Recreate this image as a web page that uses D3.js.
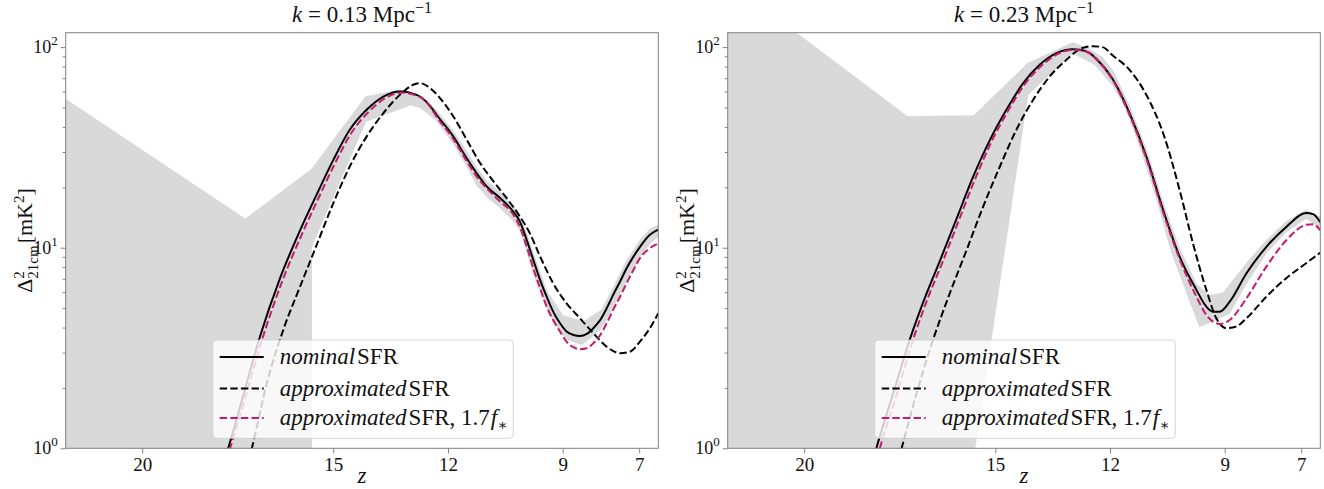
<!DOCTYPE html>
<html><head><meta charset="utf-8">
<script src="https://cdn.jsdelivr.net/npm/d3@7"></script>
<style>body{margin:0;background:#fff}svg{display:block}
svg text{font-family:"Liberation Serif","DejaVu Serif",serif;}
</style>
</head><body>
<svg id="chart" width="1324" height="489"></svg>
<script>
// ---------- data ----------
const zTicks = [20, 15, 12, 9, 7];
const zTickLabels = ["20", "15", "12", "9", "7"];
const yMajor = [1, 10, 100];
const yMajorExp = ["0", "1", "2"];
const kValues = ["0.13", "0.23"];
const legendNames = ["nominal", "approximated", "approximated"];

// k = 0.13 Mpc^-1  ([z, Delta^2])
const nominal013 = [[18.2,0.55],[17.75,1],[17.35,1.85],[16.92,3.6],[16.4,7.0],[15.87,12.2],[15.43,18.5],[15.0,27.4],[14.57,38.7],[14.13,48.7],[13.69,56.7],[13.26,60.1],[12.82,57.8],[12.47,51],[12.3,46],[11.86,35.8],[11.51,27.9],[11.25,23.5],[10.99,20.2],[10.64,17.7],[10.29,15.1],[10.12,13.5],[9.94,10.9],[9.77,8.7],[9.59,6.9],[9.42,5.7],[9.25,4.8],[9.07,4.2],[8.9,3.82],[8.72,3.67],[8.55,3.63],[8.37,3.72],[8.2,3.97],[8.02,4.36],[7.85,4.99],[7.68,5.82],[7.5,6.78],[7.33,7.9],[7.15,9.03],[6.98,10.1],[6.72,11.6],[6.5,12.3]];
const approx013 = [[17.5,0.55],[17.13,1],[16.74,2.11],[16.31,3.89],[15.87,6.4],[15.52,9.4],[15.0,16.7],[14.57,25.4],[14.13,35.8],[13.69,46.9],[13.26,57.8],[12.91,64.9],[12.73,66.1],[12.47,62.5],[12.21,55.7],[11.86,45.1],[11.51,34.5],[11.16,26.4],[10.81,21.4],[10.47,17.7],[10.12,14.3],[9.86,11.8],[9.59,9.03],[9.25,6.65],[8.9,5.28],[8.55,4.45],[8.2,3.75],[7.85,3.21],[7.5,2.98],[7.24,3.03],[6.98,3.4],[6.72,3.97],[6.5,4.71]];
const approxFs013 = [[18.15,0.55],[17.7,1],[17.3,1.8],[16.87,3.45],[16.35,6.7],[15.82,11.7],[15.38,17.8],[14.95,26.5],[14.52,37.5],[14.08,47.5],[13.65,55.5],[13.22,59.3],[12.78,57],[12.47,50.5],[12.3,45],[11.86,34.8],[11.51,27],[11.25,22.6],[10.99,19.8],[10.64,17.0],[10.29,14.6],[10.12,12.7],[9.94,10.1],[9.77,7.9],[9.59,6.28],[9.42,5.08],[9.25,4.36],[9.07,3.82],[8.9,3.4],[8.72,3.19],[8.55,3.12],[8.37,3.15],[8.2,3.34],[8.02,3.67],[7.85,4.2],[7.68,4.9],[7.5,5.7],[7.33,6.65],[7.15,7.75],[6.98,8.87],[6.72,9.95],[6.5,10.5]];
const bandUpper013 = [[22,55],[17.3,13.9],[15.57,24.6],[14.15,56.7],[13.24,61.2],[12.73,57],[12.3,48.5],[11.86,38],[11.5,30],[11.25,25],[10.99,21.5],[10.64,19],[10.29,16],[10.12,14.3],[9.94,11.8],[9.77,9.4],[9.42,6.1],[9.0,4.6],[8.46,4.28],[7.98,4.9],[7.68,6.3],[7.33,8.6],[6.98,10.9],[6.72,12.4],[6.5,13.0]];
const bandLower013 = [[6.5,11.4],[6.72,10.5],[6.98,9.0],[7.33,6.9],[7.68,5.0],[8.02,3.9],[8.5,3.28],[8.9,3.5],[9.25,4.3],[9.59,6.0],[9.77,7.4],[9.94,9.6],[10.12,12.2],[10.29,13.6],[10.64,15.8],[10.99,18.0],[11.25,20.5],[11.51,25.5],[11.86,33],[12.3,43],[12.73,50],[12.98,51.5],[14.15,42.6],[15.57,10.1],[15.57,0.5],[22,0.5]];

// k = 0.23 Mpc^-1
const nominal023 = [[18.45,0.55],[18.11,1],[17.67,1.88],[17.24,3.47],[16.8,5.9],[16.45,8.6],[16.01,14.0],[15.58,22.6],[15.14,34.5],[14.71,48.7],[14.27,66.1],[13.84,81.6],[13.4,93.3],[12.97,97.5],[12.79,97],[12.53,93.3],[12.36,87.5],[11.92,68.7],[11.49,46.9],[11.05,28.5],[10.61,15.4],[10.18,9.03],[9.74,6.16],[9.48,5.08],[9.31,4.8],[9.13,4.8],[8.87,5.38],[8.43,7.46],[7.91,10.1],[7.39,12.7],[6.87,14.9],[6.69,14.7],[6.5,13.4]];
const approx023 = [[17.8,0.55],[17.45,1],[17.06,1.88],[16.63,3.47],[16.19,5.93],[15.75,9.75],[15.32,16.0],[14.88,25.4],[14.45,38.7],[14.01,54.6],[13.58,71.3],[13.14,86.4],[12.75,98.5],[12.45,101],[12.2,100],[11.92,90.6],[11.49,77.1],[11.05,57.8],[10.61,37.2],[10.18,19.4],[9.83,10.5],[9.48,6.16],[9.22,4.45],[8.96,3.97],[8.7,4.04],[8.43,4.45],[7.91,5.7],[7.39,7.05],[6.87,8.37],[6.5,9.45]];
const approxFs023 = [[18.35,0.55],[18.02,1],[17.6,1.8],[17.18,3.35],[16.75,5.7],[16.4,8.3],[15.96,13.6],[15.53,22],[15.1,33.8],[14.67,48],[14.24,65],[13.8,80.5],[13.37,92.5],[12.95,97],[12.77,96.5],[12.53,93],[12.36,87],[11.92,68],[11.49,46],[11.05,27.8],[10.61,15.0],[10.18,8.8],[9.74,5.7],[9.48,4.62],[9.31,4.28],[9.13,4.17],[8.87,4.36],[8.43,5.6],[7.91,8.05],[7.39,10.9],[6.87,13.0],[6.69,13.1],[6.5,12.2]];
const bandUpper023 = [[22,213],[17.3,45.1],[15.57,45.5],[14.15,83],[12.97,105.4],[12.6,99],[12.2,89],[11.92,76],[11.49,51],[11.05,31],[10.61,16.8],[10.18,9.9],[9.74,6.6],[9.4,5.8],[9.05,5.93],[8.43,8.37],[7.91,10.9],[7.39,13.5],[6.87,15.4],[6.52,14.3],[6.5,14.2]];
const bandLower023 = [[6.5,12.6],[6.87,14.0],[7.39,12.0],[7.91,9.4],[8.43,6.65],[8.87,4.71],[9.31,4.3],[9.66,4.04],[10.0,6.0],[10.4,9.6],[10.8,18],[11.2,31],[11.6,50],[11.92,64],[12.4,82],[12.97,93.3],[14.15,57.8],[15.57,0.9],[22,0.5]];

// ---------- drawing ----------
const svg = d3.select("#chart");
const PINK = "#c51b6e";
const plotTop = 32.7, plotBottom = 448.3, panelW = 592.6;
const panels = [
  {x0: 65.7, k: kValues[0], band: [bandUpper013, bandLower013], series: [nominal013, approx013, approxFs013]},
  {x0: 727.7, k: kValues[1], band: [bandUpper023, bandLower023], series: [nominal023, approx023, approxFs023]}
];
const styles = [
  {color: "#000", dash: null},
  {color: "#000", dash: "7.4,3.2"},
  {color: PINK, dash: "7.4,3.2"}
];

panels.forEach((p, pi) => {
  const x = d3.scaleLinear().domain([22, 6.5]).range([p.x0, p.x0 + panelW]);
  const y = d3.scaleLog().domain([1, 118]).range([plotBottom, plotTop]);
  const g = svg.append("g");
  const clipId = "clip" + pi;
  svg.append("clipPath").attr("id", clipId).append("rect")
    .attr("x", p.x0).attr("y", plotTop).attr("width", panelW).attr("height", plotBottom - plotTop);

  const plot = g.append("g").attr("clip-path", `url(#${clipId})`);
  const poly = d3.line().x(d => x(d[0])).y(d => y(d[1]));
  plot.append("path").attr("d", poly(p.band[0].concat(p.band[1])) + "Z")
    .attr("fill", "#d9d9d9").attr("stroke", "#d0d0d0").attr("stroke-width", 0.6);

  const line = d3.line().x(d => x(d[0])).y(d => y(d[1])).curve(d3.curveMonotoneX);
  p.series.forEach((s, si) => {
    plot.append("path").attr("d", line(s)).attr("fill", "none")
      .attr("stroke", styles[si].color).attr("stroke-width", 2)
      .attr("stroke-dasharray", styles[si].dash);
  });

  // x axis
  const xa = g.append("g").attr("transform", `translate(0,${plotBottom})`)
    .call(d3.axisBottom(x).tickValues(zTicks).tickSize(5).tickPadding(4).tickFormat((d, i) => zTickLabels[i]));
  xa.attr("font-family", null);
  xa.select(".domain").remove();
  xa.selectAll("line").attr("stroke", "#808080").attr("stroke-width", 1);
  xa.selectAll("text").attr("font-size", 19).attr("fill", "#111");

  // y axis major + minor ticks
  const minor = y.ticks().filter(v => !yMajor.includes(v));
  const ym = g.append("g").attr("transform", `translate(${p.x0},0)`)
    .call(d3.axisLeft(y).tickValues(minor).tickSize(3).tickFormat(""));
  ym.select(".domain").remove();
  ym.selectAll("line").attr("stroke", "#808080");
  const ya = g.append("g").attr("transform", `translate(${p.x0},0)`)
    .call(d3.axisLeft(y).tickValues(yMajor).tickSize(5).tickFormat(""));
  ya.select(".domain").remove();
  ya.selectAll("line").attr("stroke", "#808080");
  yMajor.forEach((v, i) => {
    const t = g.append("text").attr("x", p.x0 - 8).attr("y", y(v) + 6)
      .attr("text-anchor", "end").attr("font-size", 18).attr("fill", "#111");
    t.append("tspan").text("10");
    t.append("tspan").attr("dy", -8).attr("font-size", 13).text(yMajorExp[i]);
  });

  // frame
  g.append("rect").attr("x", p.x0).attr("y", plotTop).attr("width", panelW).attr("height", plotBottom - plotTop)
    .attr("fill", "none").attr("stroke", "#808080").attr("stroke-width", 1);

  const cx = p.x0 + panelW / 2;
  // title
  const tt = g.append("text").attr("x", cx).attr("y", 22).attr("text-anchor", "middle")
    .attr("font-size", 23).attr("fill", "#111");
  tt.append("tspan").attr("font-style", "italic").text("k");
  tt.append("tspan").text(" = " + p.k + " Mpc");
  tt.append("tspan").attr("dy", -9).attr("font-size", 16).text("\u22121");

  // x label
  g.append("text").attr("x", cx).attr("y", 483).attr("text-anchor", "middle")
    .attr("font-size", 23).attr("font-style", "italic").attr("fill", "#111").text("z");

  // y label
  const yl = g.append("text").attr("transform", `translate(${p.x0 - 34},${(plotTop + plotBottom) / 2}) rotate(-90)`)
    .attr("text-anchor", "middle").attr("font-size", 22).attr("fill", "#111");
  yl.append("tspan").text("\u0394");
  yl.append("tspan").attr("dy", -8).attr("font-size", 15).text("2");
  yl.append("tspan").attr("dy", 14).attr("dx", -7.5).attr("font-size", 15).text("21cm");
  yl.append("tspan").attr("dy", -6).attr("dx", 2).text("[mK");
  yl.append("tspan").attr("dy", -8).attr("font-size", 15).text("2");
  yl.append("tspan").attr("dy", 8).text("]");

  // legend
  const lx = p.x0 + 147, ly = 340, lw = 300.6, lh = 98.3;
  const lg = g.append("g");
  lg.append("rect").attr("x", lx).attr("y", ly).attr("width", lw).attr("height", lh)
    .attr("rx", 4).attr("fill", "#fff").attr("fill-opacity", 0.8)
    .attr("stroke", "#cccccc").attr("stroke-opacity", 0.8);
  const rows = [357, 388.5, 418];
  rows.forEach((ry, i) => {
    lg.append("line").attr("x1", lx + 7).attr("x2", lx + 51).attr("y1", ry).attr("y2", ry)
      .attr("stroke", styles[i].color).attr("stroke-width", 2).attr("stroke-dasharray", styles[i].dash);
    const t = lg.append("text").attr("x", lx + 67).attr("y", ry + 7)
      .attr("font-size", 23).attr("fill", "#111");
    t.append("tspan").attr("font-style", "italic").text(legendNames[i]);
    if (i < 2) {
      t.append("tspan").attr("dx", 2).text("SFR");
    } else {
      t.append("tspan").attr("dx", 2).text("SFR, 1.7");
      t.append("tspan").attr("font-style", "italic").attr("dx", 1).text("f");
      t.append("tspan").attr("dy", 5).attr("font-size", 15).text("\u2217");
    }
  });
});
</script>
</body></html>
